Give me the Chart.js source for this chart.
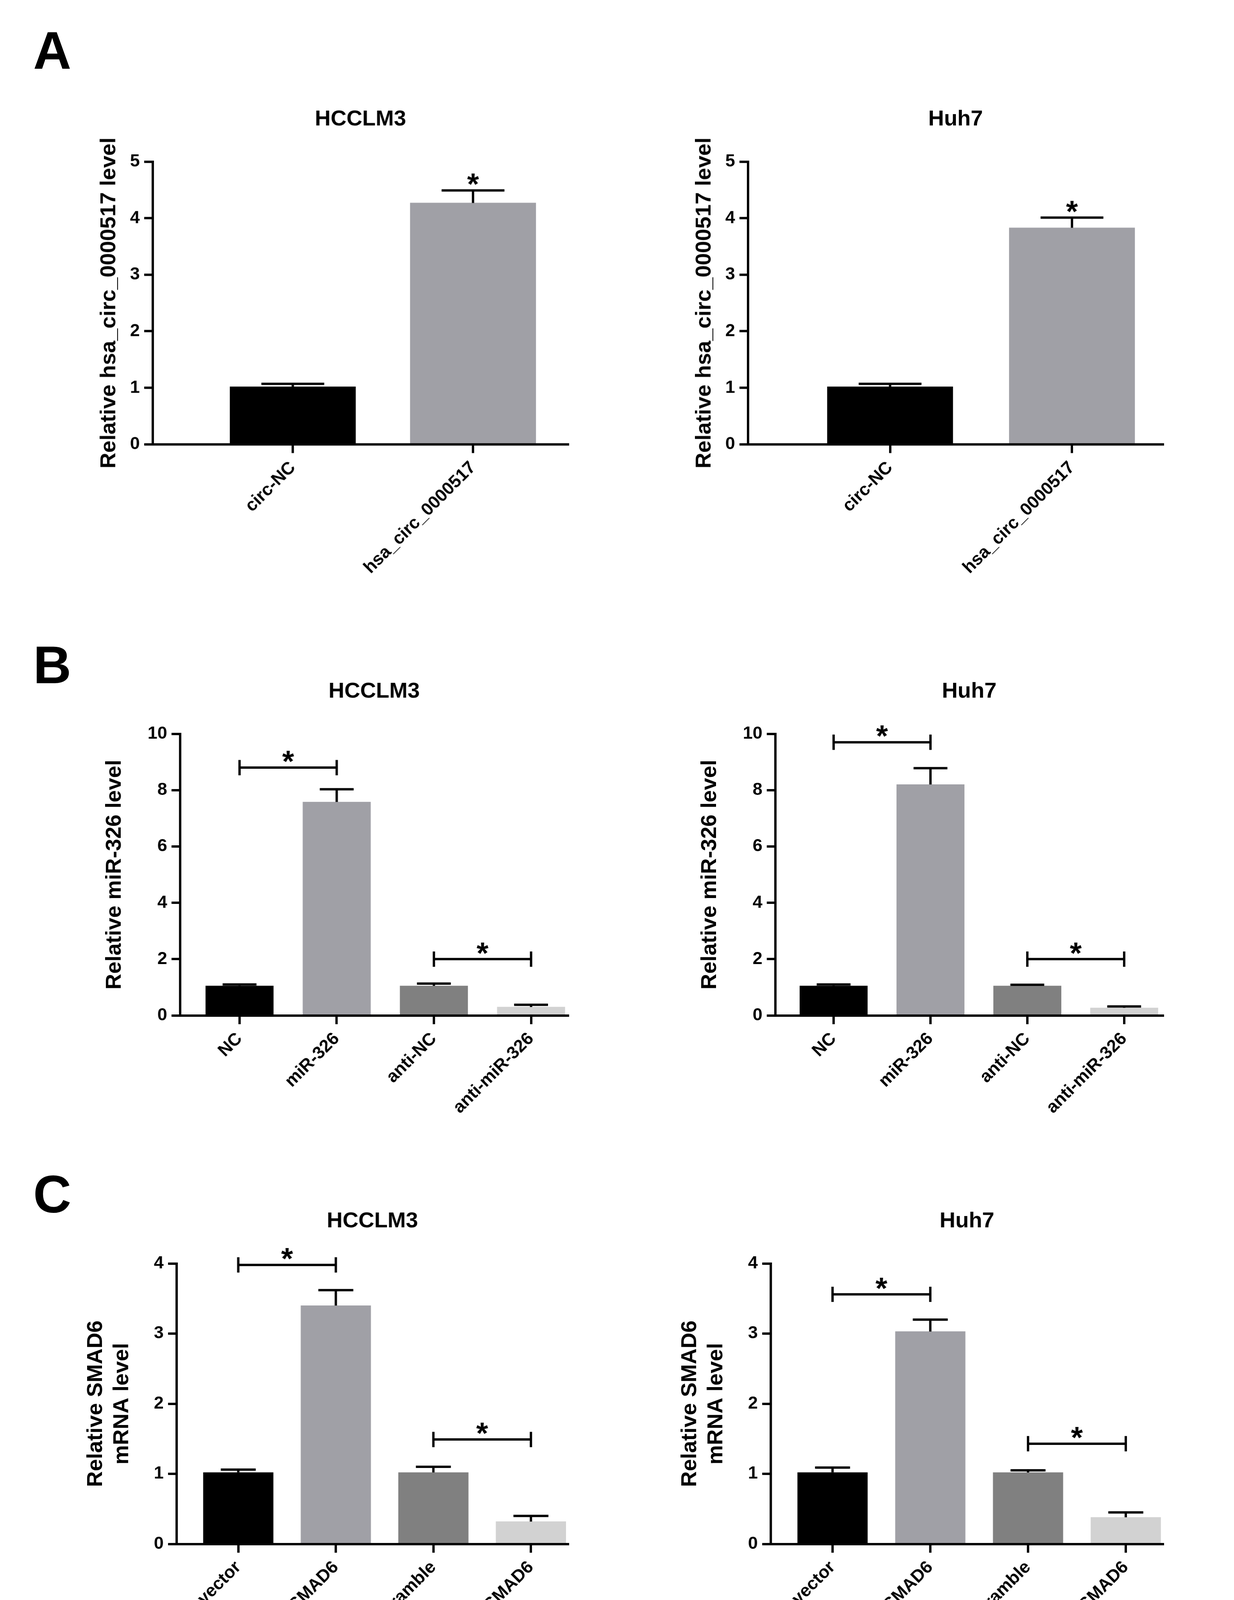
<!DOCTYPE html>
<html><head><meta charset="utf-8">
<script src="https://cdn.jsdelivr.net/npm/chart.js@4.4.0/dist/chart.umd.min.js"></script>
<style>
body{margin:0;background:#fff;width:3159px;height:4362px;position:relative;overflow:hidden;font-family:"Liberation Sans",Arial,sans-serif}
canvas{position:absolute}
.lt{position:absolute;font-weight:bold;font-size:135px;line-height:1}
</style></head><body>
<div class="lt" style="left:85px;top:62px">A</div>
<div class="lt" style="left:85px;top:1635px">B</div>
<div class="lt" style="left:85px;top:2990px">C</div>
<script>
var S = 3159 / 1130;
var BLACK = "#000000", GREY = "#a0a0a6", MID = "#808080", LIGHT = "#d2d2d2";

var catsA = ["circ-NC", "hsa_circ_0000517"];
var catsB = ["NC", "miR-326", "anti-NC", "anti-miR-326"];
var catsC = ["vector", "SMAD6", "scramble", "si-SMAD6"];

var valsA1 = [1.02, 4.27], errA1 = [0.05, 0.22];
var valsA2 = [1.02, 3.83], errA2 = [0.05, 0.18];
var valsB1 = [1.05, 7.58, 1.05, 0.30], errB1 = [0.05, 0.45, 0.08, 0.08];
var valsB2 = [1.05, 8.20, 1.05, 0.27], errB2 = [0.05, 0.58, 0.04, 0.05];
var valsC1 = [1.02, 3.40, 1.02, 0.32], errC1 = [0.04, 0.22, 0.08, 0.08];
var valsC2 = [1.02, 3.03, 1.02, 0.38], errC2 = [0.07, 0.17, 0.03, 0.07];

var FONT = "Liberation Sans";

var extras = {
  id: "extras",
  afterDatasetsDraw: function (chart) {
    var o = chart.options.plugins.extras, ctx = chart.ctx;
    var xs = chart.scales.x, ys = chart.scales.y, ca = chart.chartArea;
    ctx.save();
    ctx.strokeStyle = "#000"; ctx.lineWidth = 6; ctx.fillStyle = "#000";
    o.vals.forEach(function (v, i) {
      var x = xs.getPixelForValue(i), y0 = ys.getPixelForValue(v), y1 = ys.getPixelForValue(v + o.errs[i]);
      var hw = o.bw * 0.25;
      ctx.beginPath(); ctx.moveTo(x, y0); ctx.lineTo(x, y1);
      ctx.moveTo(x - hw, y1); ctx.lineTo(x + hw, y1); ctx.stroke();
    });
    ctx.font = "bold " + Math.round(28 * S) + "px " + FONT;
    ctx.textAlign = "center"; ctx.textBaseline = "alphabetic";
    (o.stars || []).forEach(function (s) {
      var x = xs.getPixelForValue(s.i), y = ys.getPixelForValue(o.vals[s.i] + o.errs[s.i]);
      ctx.fillText("*", x, y - 6 * S + 22 * S * 0.45);
    });
    (o.brackets || []).forEach(function (b) {
      var xa = xs.getPixelForValue(b.a), xb = xs.getPixelForValue(b.b), y = ys.getPixelForValue(b.y);
      var t = 7 * S;
      ctx.beginPath();
      ctx.moveTo(xa, y); ctx.lineTo(xb, y);
      ctx.moveTo(xa, y - t); ctx.lineTo(xa, y + t);
      ctx.moveTo(xb, y - t); ctx.lineTo(xb, y + t);
      ctx.stroke();
      ctx.fillText("*", (xa + xb) / 2, y + 4 * S);
    });
    ctx.font = "bold " + Math.round(20 * S) + "px " + FONT;
    ctx.fillText(o.title, (ca.left + ca.right) / 2, ca.top - 33 * S);
    ctx.restore();
  }
};

function make(d) {
  var left = (d.axis - d.yw) * S, top = (d.top - 100) * S;
  var w = (d.right + 10) * S - left, plotH = (d.bottom - d.top) * S;
  var h = 100 * S + plotH + d.xh * S;
  var c = document.createElement("canvas");
  c.style.left = left + "px"; c.style.top = top + "px";
  c.style.width = w + "px"; c.style.height = h + "px";
  c.width = w; c.height = h;
  document.body.appendChild(c);
  var tickFont = { family: FONT, size: Math.round(16 * S), weight: "bold" };
  new Chart(c.getContext("2d"), {
    type: "bar",
    data: {
      datasets: [{
        data: d.vals.map(function (v, i) { return { x: i, y: v }; }),
        backgroundColor: d.colors, borderWidth: 0, barThickness: d.bw * S
      }]
    },
    options: {
      responsive: false, animation: false, devicePixelRatio: 1,
      layout: { padding: { left: 0, top: 100 * S, right: 10 * S, bottom: 0 } },
      plugins: {
        legend: { display: false }, tooltip: { enabled: false },
        extras: { vals: d.vals, errs: d.errs, bw: d.bw * S, stars: d.stars, brackets: d.brackets, title: d.title }
      },
      scales: {
        x: {
          type: "linear", min: d.xmin, max: d.xmax, offset: false,
          afterBuildTicks: function (s) { s.ticks = d.cats.map(function (_, i) { return { value: i }; }); },
          afterFit: function (s) { s.height = d.xh * S; },
          ticks: { autoSkip: false, minRotation: 45, maxRotation: 45, color: "#000", font: tickFont,
                   padding: 4 * S, callback: function (v) { return d.cats[v]; } },
          grid: { offset: false, drawOnChartArea: false, drawTicks: true, tickLength: 8 * S, lineWidth: 6, color: "#000" },
          border: { width: 6, color: "#000" }
        },
        y: {
          min: 0, max: d.ymax,
          afterBuildTicks: function (s) { s.ticks = d.yticks.map(function (v) { return { value: v }; }); },
          afterFit: function (s) { s.width = d.yw * S; },
          ticks: { color: "#000", font: tickFont, padding: 4 * S },
          grid: { drawOnChartArea: false, drawTicks: true, tickLength: 8 * S, lineWidth: 6, color: "#000" },
          border: { width: 6, color: "#000" },
          title: { display: true, text: d.ylab, color: "#000", padding: 0,
                   font: { family: FONT, size: Math.round(20 * S), weight: "bold" } }
        }
      }
    },
    plugins: [extras]
  });
}

var tA = [0, 1, 2, 3, 4, 5], tB = [0, 2, 4, 6, 8, 10], tC = [0, 1, 2, 3, 4];
var colA = [BLACK, GREY], colB = [BLACK, GREY, MID, LIGHT];

make({ axis: 140, yw: 52, top: 148, bottom: 407, right: 520, xh: 170, xmin: -0.776, xmax: 1.527, bw: 115,
  cats: catsA, vals: valsA1, errs: errA1, colors: colA, ymax: 5, yticks: tA, title: "HCCLM3",
  ylab: "Relative hsa_circ_0000517 level", stars: [{ i: 1 }] });
make({ axis: 685, yw: 52, top: 148, bottom: 407, right: 1065, xh: 170, xmin: -0.78, xmax: 1.5, bw: 115,
  cats: catsA, vals: valsA2, errs: errA2, colors: colA, ymax: 5, yticks: tA, title: "Huh7",
  ylab: "Relative hsa_circ_0000517 level", stars: [{ i: 1 }] });
make({ axis: 165, yw: 72, top: 672, bottom: 930, right: 520, xh: 130, xmin: -0.61, xmax: 3.38, bw: 62,
  cats: catsB, vals: valsB1, errs: errB1, colors: colB, ymax: 10, yticks: tB, title: "HCCLM3",
  ylab: "Relative miR-326 level", brackets: [{ a: 0, b: 1, y: 8.8 }, { a: 2, b: 3, y: 2.0 }] });
make({ axis: 710, yw: 72, top: 672, bottom: 930, right: 1065, xh: 130, xmin: -0.6, xmax: 3.4, bw: 62,
  cats: catsB, vals: valsB2, errs: errB2, colors: colB, ymax: 10, yticks: tB, title: "Huh7",
  ylab: "Relative miR-326 level", brackets: [{ a: 0, b: 1, y: 9.7 }, { a: 2, b: 3, y: 2.0 }] });
make({ axis: 162, yw: 86, top: 1157, bottom: 1414, right: 520, xh: 130, xmin: -0.63, xmax: 3.38, bw: 64,
  cats: catsC, vals: valsC1, errs: errC1, colors: colB, ymax: 4, yticks: tC, title: "HCCLM3",
  ylab: ["Relative SMAD6", "mRNA level"], brackets: [{ a: 0, b: 1, y: 3.98 }, { a: 2, b: 3, y: 1.49 }] });
make({ axis: 706, yw: 86, top: 1157, bottom: 1414, right: 1065, xh: 130, xmin: -0.63, xmax: 3.38, bw: 64,
  cats: catsC, vals: valsC2, errs: errC2, colors: colB, ymax: 4, yticks: tC, title: "Huh7",
  ylab: ["Relative SMAD6", "mRNA level"], brackets: [{ a: 0, b: 1, y: 3.56 }, { a: 2, b: 3, y: 1.43 }] });
</script>
</body></html>
